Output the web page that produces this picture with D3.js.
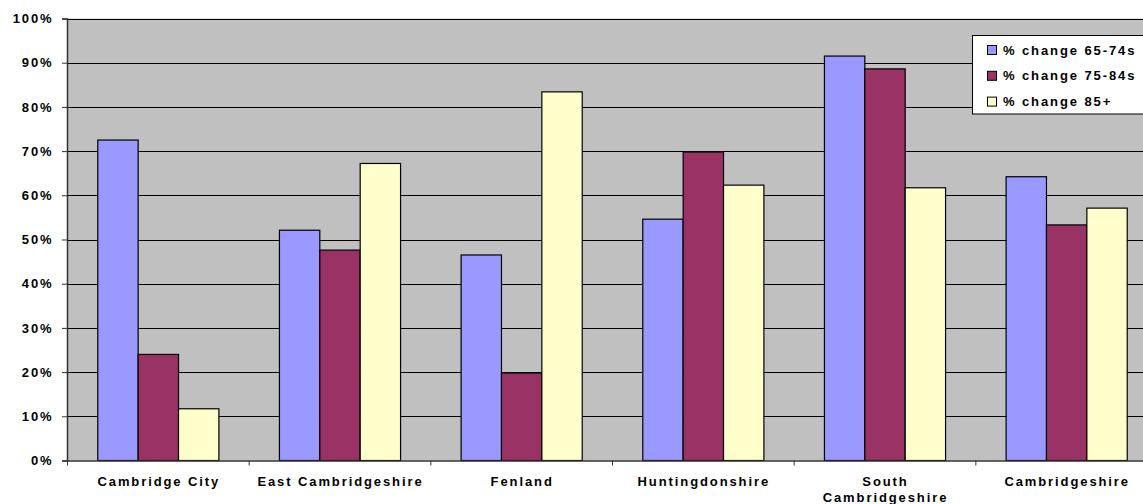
<!DOCTYPE html>
<html>
<head>
<meta charset="utf-8">
<script src="https://cdn.jsdelivr.net/npm/d3@7"></script>
<style>
  html, body { margin: 0; padding: 0; background: #fff; }
  svg { display: block; }
  text { font-family: "Liberation Sans", Arial, sans-serif; font-weight: bold; fill: #000; }
</style>
</head>
<body>
<svg id="chart" width="1143" height="504"></svg>
<script>
// Districts and the percentage change for each age band
const categories = ["Cambridge City", "East Cambridgeshire", "Fenland", "Huntingdonshire", "South Cambridgeshire", "Cambridgeshire"];
const seriesNames = ["% change 65-74s", "% change 75-84s", "% change 85+"];
const change6574 = [0.725, 0.521, 0.465, 0.546, 0.915, 0.642];
const change7584 = [0.240, 0.476, 0.198, 0.698, 0.886, 0.533];
const change85 = [0.117, 0.672, 0.834, 0.623, 0.617, 0.571];
const yTicks = [0, 0.1, 0.2, 0.3, 0.4, 0.5, 0.6, 0.7, 0.8, 0.9, 1.0];
const colors = ["#9999FF", "#993366", "#FFFFCC"];

const seriesValues = [change6574, change7584, change85];

const svg = d3.select("#chart");
const plotLeft = 67, plotTop = 18.5, plotBottom = 460.5;
const plotW = 1090;   // plot runs past the right edge of the canvas

const x0 = d3.scaleBand().domain(categories).range([plotLeft, plotLeft + plotW]).paddingInner(0).paddingOuter(0);
const x1 = d3.scaleBand().domain(seriesNames).range([0, x0.bandwidth()]).paddingInner(0).paddingOuter(0.75);
const y = d3.scaleLinear().domain([0, 1]).range([plotBottom, plotTop]);

// plot background
svg.append("rect")
  .attr("x", plotLeft).attr("y", plotTop)
  .attr("width", plotW).attr("height", plotBottom - plotTop)
  .attr("fill", "#C0C0C0");

// horizontal gridlines
svg.append("g").selectAll("line")
  .data(yTicks.filter(d => d > 0))
  .join("line")
  .attr("x1", plotLeft).attr("x2", plotLeft + plotW)
  .attr("y1", d => Math.round(y(d)) + 0.5).attr("y2", d => Math.round(y(d)) + 0.5)
  .attr("stroke", "#000").attr("stroke-width", 1);

// bars
const groups = svg.append("g").selectAll("g")
  .data(categories)
  .join("g")
  .attr("transform", d => `translate(${x0(d)},0)`);

groups.selectAll("rect")
  .data((d, i) => seriesNames.map((s, j) => ({ s, v: seriesValues[j][i], j })))
  .join("rect")
  .attr("x", d => x1(d.s) + 0.5)
  .attr("width", x1.bandwidth())
  .attr("y", d => y(d.v))
  .attr("height", d => plotBottom - y(d.v))
  .attr("fill", d => colors[d.j])
  .attr("stroke", "#000").attr("stroke-width", 1.2);

// y axis
const yAxis = svg.append("g")
  .attr("transform", `translate(${plotLeft},0)`)
  .call(d3.axisLeft(y).tickValues(yTicks).tickFormat(d3.format(".0%")).tickSize(5).tickPadding(8.5));
yAxis.select(".domain").attr("stroke", "#333").attr("stroke-width", 1.5);
yAxis.selectAll(".tick line").attr("stroke", "#333");
yAxis.selectAll(".tick text")
  .style("font-family", '"Liberation Sans", Arial, sans-serif')
  .style("font-weight", "bold")
  .style("font-size", "13px")
  .style("letter-spacing", "1.9px")
  .attr("fill", "#000");

// x axis
const xAxis = svg.append("g")
  .attr("transform", `translate(0,${plotBottom})`)
  .call(d3.axisBottom(x0).tickSize(0).tickPadding(0).tickFormat(""));
xAxis.select(".domain").attr("stroke", "#333").attr("stroke-width", 1.5);

// boundary ticks between categories
svg.append("g").selectAll("line")
  .data(d3.range(categories.length + 1))
  .join("line")
  .attr("x1", i => plotLeft + i * x0.step() + 0.5).attr("x2", i => plotLeft + i * x0.step() + 0.5)
  .attr("y1", plotBottom).attr("y2", plotBottom + 5)
  .attr("stroke", "#333");

// category labels, wrapped when wider than the band
const labelG = svg.append("g");
categories.forEach(c => {
  const t = labelG.append("text")
    .attr("x", x0(c) + x0.bandwidth() / 2 + 1)
    .attr("y", 486)
    .attr("text-anchor", "middle")
    .style("font-size", "13px")
    .style("letter-spacing", "1.9px");
  t.text(c);
  if (t.node().getComputedTextLength() > 170) {
    const words = c.split(" ");
    t.text(null);
    words.forEach((w, k) => {
      t.append("tspan")
        .attr("x", x0(c) + x0.bandwidth() / 2 + 1)
        .attr("dy", k === 0 ? 0 : 16)
        .text(w);
    });
  }
});

// legend
const legend = svg.append("g");
legend.append("rect")
  .attr("x", 972.5).attr("y", 35.5)
  .attr("width", 220).attr("height", 78.5)
  .attr("fill", "#fff").attr("stroke", "#000");
seriesNames.forEach((s, i) => {
  const cy = 50 + i * 25.8;
  legend.append("rect")
    .attr("x", 987.5).attr("y", cy - 4.5)
    .attr("width", 9).attr("height", 9)
    .attr("fill", colors[i]).attr("stroke", "#000");
  legend.append("text")
    .attr("x", 1003).attr("y", cy + 4.6)
    .style("font-size", "13px")
    .style("letter-spacing", "1.9px")
    .text(s);
});
</script>
</body>
</html>
